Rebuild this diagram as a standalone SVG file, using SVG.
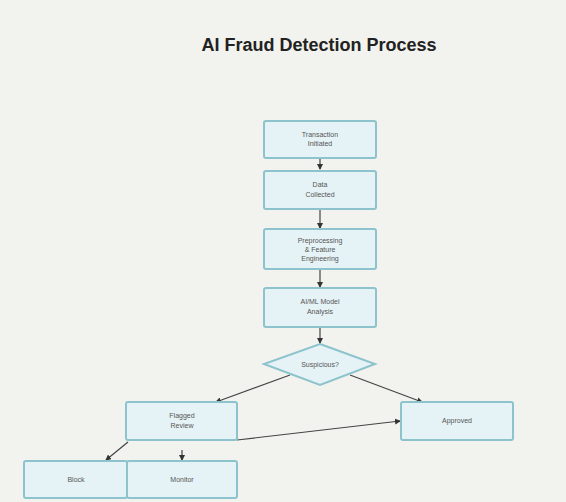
<svg xmlns="http://www.w3.org/2000/svg" width="566" height="502" viewBox="0 0 566 502">
<defs>
<marker id="ah" markerWidth="6" markerHeight="6" refX="5" refY="3" orient="auto" markerUnits="userSpaceOnUse">
<path d="M0,0 L6,3 L0,6 Z" fill="#333"/>
</marker>
<style>
.n{fill:#e6f3f6;stroke:#8cc3cc;stroke-width:2}
.t{font-family:"Liberation Sans",Arial,sans-serif;font-size:7px;fill:#555;text-anchor:middle}
.c{stroke:#444;stroke-width:1.2;fill:none;marker-end:url(#ah)}
</style>
</defs>
<rect width="566" height="502" fill="#f2f2ee"/>
<text x="319" y="51" font-family="Liberation Sans, Arial, sans-serif" font-size="18" font-weight="bold" fill="#222" text-anchor="middle">AI Fraud Detection Process</text>
<g id="connectors">
<line class="c" x1="320" y1="159" x2="320" y2="169"/>
<line class="c" x1="320" y1="210" x2="320" y2="228"/>
<line class="c" x1="320" y1="270" x2="320" y2="287"/>
<line class="c" x1="320" y1="328" x2="320" y2="343"/>
<line class="c" x1="290" y1="375" x2="216" y2="402"/>
<line class="c" x1="350" y1="375" x2="422" y2="402"/>
<line class="c" x1="237" y1="440" x2="400" y2="421"/>
<line class="c" x1="128" y1="442" x2="106" y2="460"/>
<line class="c" x1="182" y1="450" x2="182" y2="460"/>
</g>
<g id="n1"><rect class="n" x="264" y="121" width="112" height="37" rx="2"/><text class="t" x="320" y="137">Transaction</text><text class="t" x="320" y="146">Initiated</text></g>
<g id="n2"><rect class="n" x="264" y="171" width="112" height="38" rx="2"/><text class="t" x="320" y="187">Data</text><text class="t" x="320" y="197">Collected</text></g>
<g id="n3"><rect class="n" x="264" y="229" width="112" height="40" rx="2"/><text class="t" x="320" y="243">Preprocessing</text><text class="t" x="320" y="252">&amp; Feature</text><text class="t" x="320" y="261">Engineering</text></g>
<g id="n4"><rect class="n" x="264" y="288" width="112" height="39" rx="2"/><text class="t" x="320" y="304">AI/ML Model</text><text class="t" x="320" y="314">Analysis</text></g>
<g id="n5"><polygon class="n" points="320,344 375,364 320,385 264,364"/><text class="t" x="320" y="367">Suspicious?</text></g>
<g id="n6"><rect class="n" x="126" y="402" width="111" height="38" rx="2"/><text class="t" x="182" y="418">Flagged</text><text class="t" x="182" y="428">Review</text></g>
<g id="n7"><rect class="n" x="401" y="402" width="112" height="38" rx="2"/><text class="t" x="457" y="423">Approved</text></g>
<g id="n8"><rect class="n" x="24" y="461" width="103" height="37" rx="2"/><text class="t" x="76" y="482">Block</text></g>
<g id="n9"><rect class="n" x="127" y="461" width="110" height="37" rx="2"/><text class="t" x="182" y="482">Monitor</text></g>
</svg>
